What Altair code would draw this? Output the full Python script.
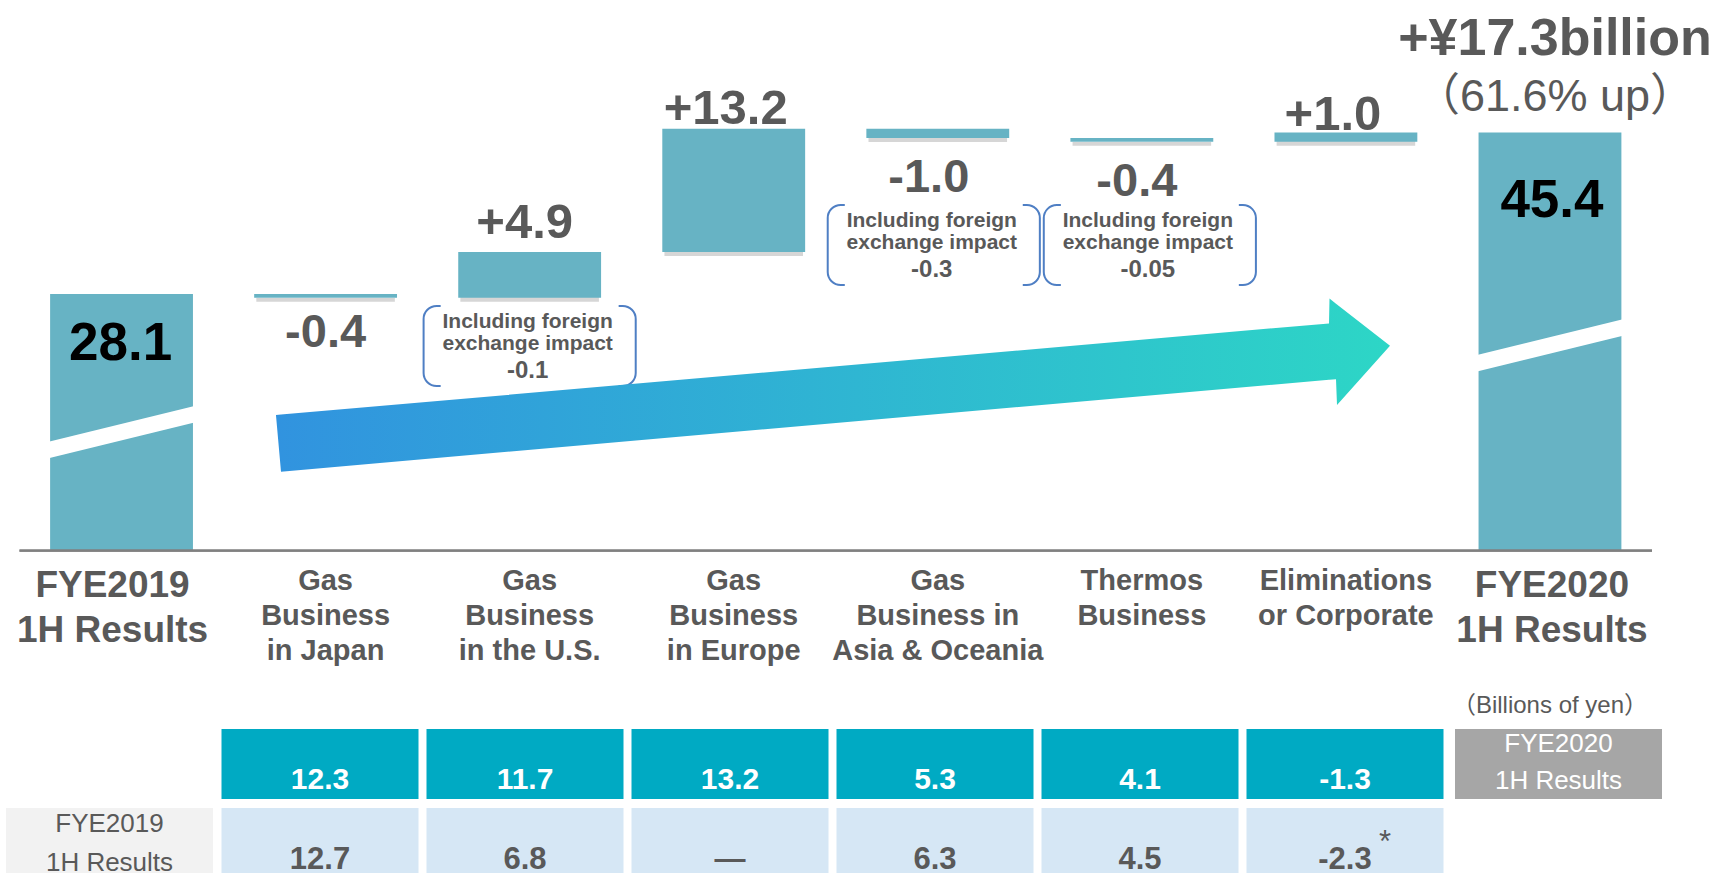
import altair as alt
import pandas as pd

# ---------------- chart values ----------------
CATEGORIES = [
    "FYE2019 1H Results",
    "Gas Business in Japan",
    "Gas Business in the U.S.",
    "Gas Business in Europe",
    "Gas Business in Asia & Oceania",
    "Thermos Business",
    "Eliminations or Corporate",
    "FYE2020 1H Results",
]
CATEGORY_LABELS = [
    "FYE2019\n1H Results",
    "Gas\nBusiness\nin Japan",
    "Gas\nBusiness\nin the U.S.",
    "Gas\nBusiness\nin Europe",
    "Gas\nBusiness in\nAsia & Oceania",
    "Thermos\nBusiness",
    "Eliminations\nor Corporate",
    "FYE2020\n1H Results",
]
OPENING_TOTAL = 28.1
CLOSING_TOTAL = 45.4
SEGMENT_CHANGES = [-0.4, 4.9, 13.2, -1.0, -0.4, 1.0]
FX_SEGMENTS = ["Gas Business in the U.S.", "Gas Business in Asia & Oceania", "Thermos Business"]
FX_IMPACTS = ["-0.1", "-0.3", "-0.05"]
CURRENT_RESULTS = [12.3, 11.7, 13.2, 5.3, 4.1, -1.3]
PRIOR_RESULTS = [12.7, 6.8, None, 6.3, 4.5, -2.3]
PRIOR_FOOTNOTED = [False, False, False, False, False, True]
BREAK_VALUES = [13.3, 22.6]          # where the axis-break stripes cut the two total bars

HEADLINE = "+¥17.3billion"
HEADLINE_SUB = "（61.6% up）"
UNIT_NOTE = "（Billions of yen）"
FX_NOTE = "Including foreign\nexchange impact"
CURRENT_HEADER = "FYE2020\n1H Results"
PRIOR_HEADER = "FYE2019\n1H Results"

# decorative arrow outline (canvas pixel space)
ARROW_X = [276, 281, 1329, 1329.5, 1336, 1337, 1390]
ARROW_TOP = [415, 414.6, 323.4, 298.6, 303.7, 304.5, 345.7]
ARROW_BOTTOM = [415.4, 471.7, 379.8, 379.8, 379.2, 405, 345.7]

# ---------------- styles ----------------
W, H = 1717, 873
FONT = "Liberation Sans, Arial, Noto Sans CJK JP, sans-serif"
BAR = "#67b3c4"
TEAL = "#00aac3"
LIGHT = "#d6e7f5"
LABEL_CELL = "#f2f2f2"
GRAY_CELL = "#a6a6a6"
TXT = "#595959"
BRACKET = "#4f7fc4"
AXIS = "#808080"

# ---------------- scales ----------------
Y_FLOOR, Y_TOP = 0.6, 60
PX_PER_UNIT, Y_ZERO_PX = 9.335, 556.3
Y_SCALE = alt.Scale(domain=[Y_FLOOR, Y_TOP],
                    range=[Y_ZERO_PX - Y_FLOOR * PX_PER_UNIT, Y_ZERO_PX - Y_TOP * PX_PER_UNIT],
                    clamp=True, nice=False, zero=False)
X_MAIN = alt.Scale(type="band", domain=CATEGORIES, range=[19.5, 1652], paddingInner=0.3, paddingOuter=0.15)
X_TAB = alt.Scale(type="band", domain=CATEGORIES, range=[12.5, 1652.5], paddingInner=0.039, paddingOuter=0.0195)
X_SIDE = alt.Scale(type="band", domain=CATEGORIES, range=[6, 1662], paddingInner=0, paddingOuter=0)
Y_TAB = alt.Scale(type="band", domain=["r1", "r2"], range=[729, 878], paddingInner=0.114, paddingOuter=0)
PX_X = alt.Scale(type="linear", domain=[0, W], range=[0, W], nice=False, zero=False)
PX_Y = alt.Scale(type="linear", domain=[0, H], range=[0, H], nice=False, zero=False)


def xe(scale=X_MAIN):
    return alt.X("cat:N", scale=scale, axis=None)


def ye(field):
    return alt.Y(f"{field}:Q", scale=Y_SCALE, axis=None)


def yt():
    return alt.Y("row:N", scale=Y_TAB, axis=None)


def txt(df, size, color=TXT, weight="bold", **kw):
    return alt.Chart(df).mark_text(font=FONT, fontSize=size, fontWeight=weight, color=color, **kw)


# ---------------- waterfall table ----------------
recs = [dict(cat=CATEGORIES[0], lo=0.0, hi=OPENING_TOTAL, label=f"{OPENING_TOTAL:.1f}", kind="total")]
level = OPENING_TOTAL
for cat, d in zip(CATEGORIES[1:-1], SEGMENT_CHANGES):
    new = round(level + d, 2)
    recs.append(dict(cat=cat, lo=min(level, new), hi=max(level, new),
                     label=f"{d:+.1f}", kind="up" if d > 0 else "down"))
    level = new
recs.append(dict(cat=CATEGORIES[-1], lo=0.0, hi=CLOSING_TOTAL, label=f"{CLOSING_TOTAL:.1f}", kind="total"))
wf = pd.DataFrame(recs)
wf["anchor"] = [r.lo if r.kind == "down" else r.hi for r in wf.itertuples()]
steps = wf[wf.kind != "total"]

layers = []

# shadows and bars
layers.append(alt.Chart(steps).mark_bar(color="#b5b5b5", opacity=0.55, yOffset=4, y2Offset=4,
                                         width=alt.RelativeBandSize(band=0.97))
              .encode(x=xe(), y=ye("lo"), y2=alt.Y2("hi:Q")))
layers.append(alt.Chart(wf).mark_bar(color=BAR).encode(x=xe(), y=ye("lo"), y2=alt.Y2("hi:Q")))

# axis-break stripes on the two total bars
brk = pd.DataFrame({"cat": [CATEGORIES[0], CATEGORIES[-1]], "v": BREAK_VALUES})
STRIPE = "M -1.05 0.142 L 1.05 -0.372 L 1.05 -0.142 L -1.05 0.372 Z"
layers.append(alt.Chart(brk).mark_point(shape=STRIPE, size=20392, filled=True, color="white",
                                        opacity=1, strokeWidth=0)
              .encode(x=xe(), y=ye("v")))

# baseline
layers.append(alt.Chart(brk).mark_rule(color=AXIS, strokeWidth=2.2)
              .encode(x=alt.value(19.5), x2=alt.value(1652),
                      y=alt.YDatum(Y_FLOOR, type="quantitative", scale=Y_SCALE, axis=None)))

# foreign-exchange bracket boxes: (dx, top offset, bottom offset) in px below the bar bottom
BOX = {
    "Gas Business in the U.S.": (0, 8.3, 88.3),
    "Gas Business in Asia & Oceania": (-4, 66.9, 146.9),
    "Thermos Business": (8, 63.2, 143.2),
}
fx = pd.DataFrame({"cat": FX_SEGMENTS, "impact": FX_IMPACTS})
fx["anchor"] = [float(wf.loc[wf.cat == c, "lo"].iloc[0]) for c in FX_SEGMENTS]
box_layers, cover_layers, fx_text = [], [], []
for c in FX_SEGMENTS:
    dx, top, bot = BOX[c]
    d = fx[fx.cat == c]
    box_layers.append(alt.Chart(d).mark_bar(cornerRadius=13, fillOpacity=0, stroke=BRACKET, strokeWidth=2,
                                            width=alt.RelativeBandSize(band=1.485), xOffset=dx,
                                            yOffset=top, y2Offset=bot)
                      .encode(x=xe(), y=ye("anchor"), y2=alt.Y2("anchor:Q")))
    for edge in (top, bot):
        cover_layers.append(alt.Chart(d).mark_bar(color="white", width=alt.RelativeBandSize(band=1.246),
                                                  xOffset=dx, yOffset=edge - 3, y2Offset=edge + 3)
                            .encode(x=xe(), y=ye("anchor"), y2=alt.Y2("anchor:Q")))
    fx_text.append(txt(d.assign(note=FX_NOTE), 21, lineBreak="\n", lineHeight=22, baseline="middle",
                       dx=dx - 2, dy=top + 16.2)
                   .encode(x=xe(), y=ye("anchor"), text="note:N"))
    fx_text.append(txt(d, 24, baseline="middle", dx=dx - 2, dy=top + 65)
                   .encode(x=xe(), y=ye("anchor"), text="impact:N"))
layers += box_layers + cover_layers

# gradient arrow
arrow = pd.DataFrame({"ax": ARROW_X, "ay": ARROW_TOP, "ay2": ARROW_BOTTOM})
grad = alt.LinearGradient(gradient="linear",
                          stops=[alt.GradientStop(color="#3193df", offset=0),
                                 alt.GradientStop(color="#2dd6c6", offset=1)],
                          x1=0, x2=1, y1=0, y2=0)
layers.append(alt.Chart(arrow).mark_area(fill=grad, fillOpacity=1, strokeWidth=0, orient="vertical")
              .encode(x=alt.X("ax:Q", scale=PX_X, axis=None),
                      y=alt.Y("ay:Q", scale=PX_Y, axis=None, stack=None),
                      y2=alt.Y2("ay2:Q")))

# value labels: (dx, dy) in px from the bar edge they hang on
LABEL_POS = {
    "FYE2019 1H Results": (-1, 50),
    "Gas Business in Japan": (0, 35.5),
    "Gas Business in the U.S.": (-5, -29.3),
    "Gas Business in Europe": (-8, -19.3),
    "Gas Business in Asia & Oceania": (-9, 39.5),
    "Thermos Business": (-5, 40),
    "Eliminations or Corporate": (-13, -17.8),
    "FYE2020 1H Results": (2, 68.5),
}
for c in CATEGORIES:
    d = wf[wf.cat == c]
    kind = d.kind.iloc[0]
    size = 53 if kind == "total" else (49 if kind == "up" else 47)
    ldx, ldy = LABEL_POS[c]
    layers.append(txt(d, size, color="#000000" if kind == "total" else TXT,
                      baseline="middle", dx=ldx, dy=ldy)
                  .encode(x=xe(), y=ye("anchor"), text="label:N"))
layers += fx_text

# category labels
cats = pd.DataFrame({"cat": CATEGORIES, "lbl": CATEGORY_LABELS})
yfloor = alt.YDatum(Y_FLOOR, type="quantitative", scale=Y_SCALE, axis=None)
layers.append(txt(cats[cats.cat == CATEGORIES[0]], 37, lineBreak="\n", lineHeight=45, baseline="top",
                  dx=-9, dy=17).encode(x=xe(), y=yfloor, text="lbl:N"))
layers.append(txt(cats[cats.cat == CATEGORIES[-1]], 37, lineBreak="\n", lineHeight=45, baseline="top",
                  dx=2, dy=17).encode(x=xe(), y=yfloor, text="lbl:N"))
layers.append(txt(cats[~cats.cat.isin([CATEGORIES[0], CATEGORIES[-1]])], 29, lineBreak="\n",
                  lineHeight=35, baseline="top", dy=16.5).encode(x=xe(), y=yfloor, text="lbl:N"))

# headline
head = pd.DataFrame({"cat": [CATEGORIES[-1]], "anchor": [CLOSING_TOTAL], "a": [HEADLINE], "b": [HEADLINE_SUB]})
layers.append(txt(head, 52, baseline="middle", dx=5, dy=-93).encode(x=xe(), y=ye("anchor"), text="a:N"))
layers.append(txt(head, 45, weight="normal", baseline="middle", dx=5, dy=-35)
              .encode(x=xe(), y=ye("anchor"), text="b:N"))

# ---------------- results table ----------------
segs = CATEGORIES[1:-1]
row1 = pd.DataFrame({"cat": segs, "row": "r1", "t": [f"{v:.1f}" for v in CURRENT_RESULTS]})
row2 = pd.DataFrame({"cat": segs, "row": "r2",
                     "t": ["—" if v is None else f"{v:.1f}" for v in PRIOR_RESULTS]})
side_cur = pd.DataFrame({"cat": [CATEGORIES[-1]], "row": ["r1"], "t": [CURRENT_HEADER]})
side_pri = pd.DataFrame({"cat": [CATEGORIES[0]], "row": ["r2"], "t": [PRIOR_HEADER]})
foot = row2[PRIOR_FOOTNOTED].assign(t="*")
unit = pd.DataFrame({"cat": [CATEGORIES[-1]], "row": ["r1"], "t": [UNIT_NOTE]})

layers.append(alt.Chart(row1).mark_rect(color=TEAL).encode(x=xe(X_TAB), y=yt()))
layers.append(alt.Chart(row2).mark_rect(color=LIGHT).encode(x=xe(X_TAB), y=yt()))
layers.append(alt.Chart(side_cur).mark_rect(color=GRAY_CELL).encode(x=xe(X_SIDE), y=yt()))
layers.append(alt.Chart(side_pri).mark_rect(color=LABEL_CELL).encode(x=xe(X_SIDE), y=yt()))
layers.append(txt(row1, 30, color="white", baseline="middle", dy=16.2).encode(x=xe(X_TAB), y=yt(), text="t:N"))
layers.append(txt(row2, 31, baseline="middle", dy=17.3).encode(x=xe(X_TAB), y=yt(), text="t:N"))
layers.append(txt(foot, 31, weight="normal", baseline="alphabetic", dx=40, dy=9)
              .encode(x=xe(X_TAB), y=yt(), text="t:N"))
layers.append(txt(side_cur, 26, color="white", weight="normal", lineBreak="\n", lineHeight=37,
                  baseline="middle", dy=-19.5).encode(x=xe(X_SIDE), y=yt(), text="t:N"))
layers.append(txt(side_pri, 26, weight="normal", lineBreak="\n", lineHeight=39,
                  baseline="middle", dy=-19).encode(x=xe(X_SIDE), y=yt(), text="t:N"))
layers.append(txt(unit, 24, weight="normal", baseline="middle", dy=-57.6)
              .encode(x=xe(X_MAIN), y=yt(), text="t:N"))

chart = (alt.layer(*layers)
         .resolve_scale(x="independent", y="independent")
         .properties(width=W, height=H, padding=0, background="white",
                     autosize=alt.AutoSizeParams(type="none"))
         .configure_view(stroke=None))

chart.save("out.html", embed_options={"renderer": "svg", "actions": False})
